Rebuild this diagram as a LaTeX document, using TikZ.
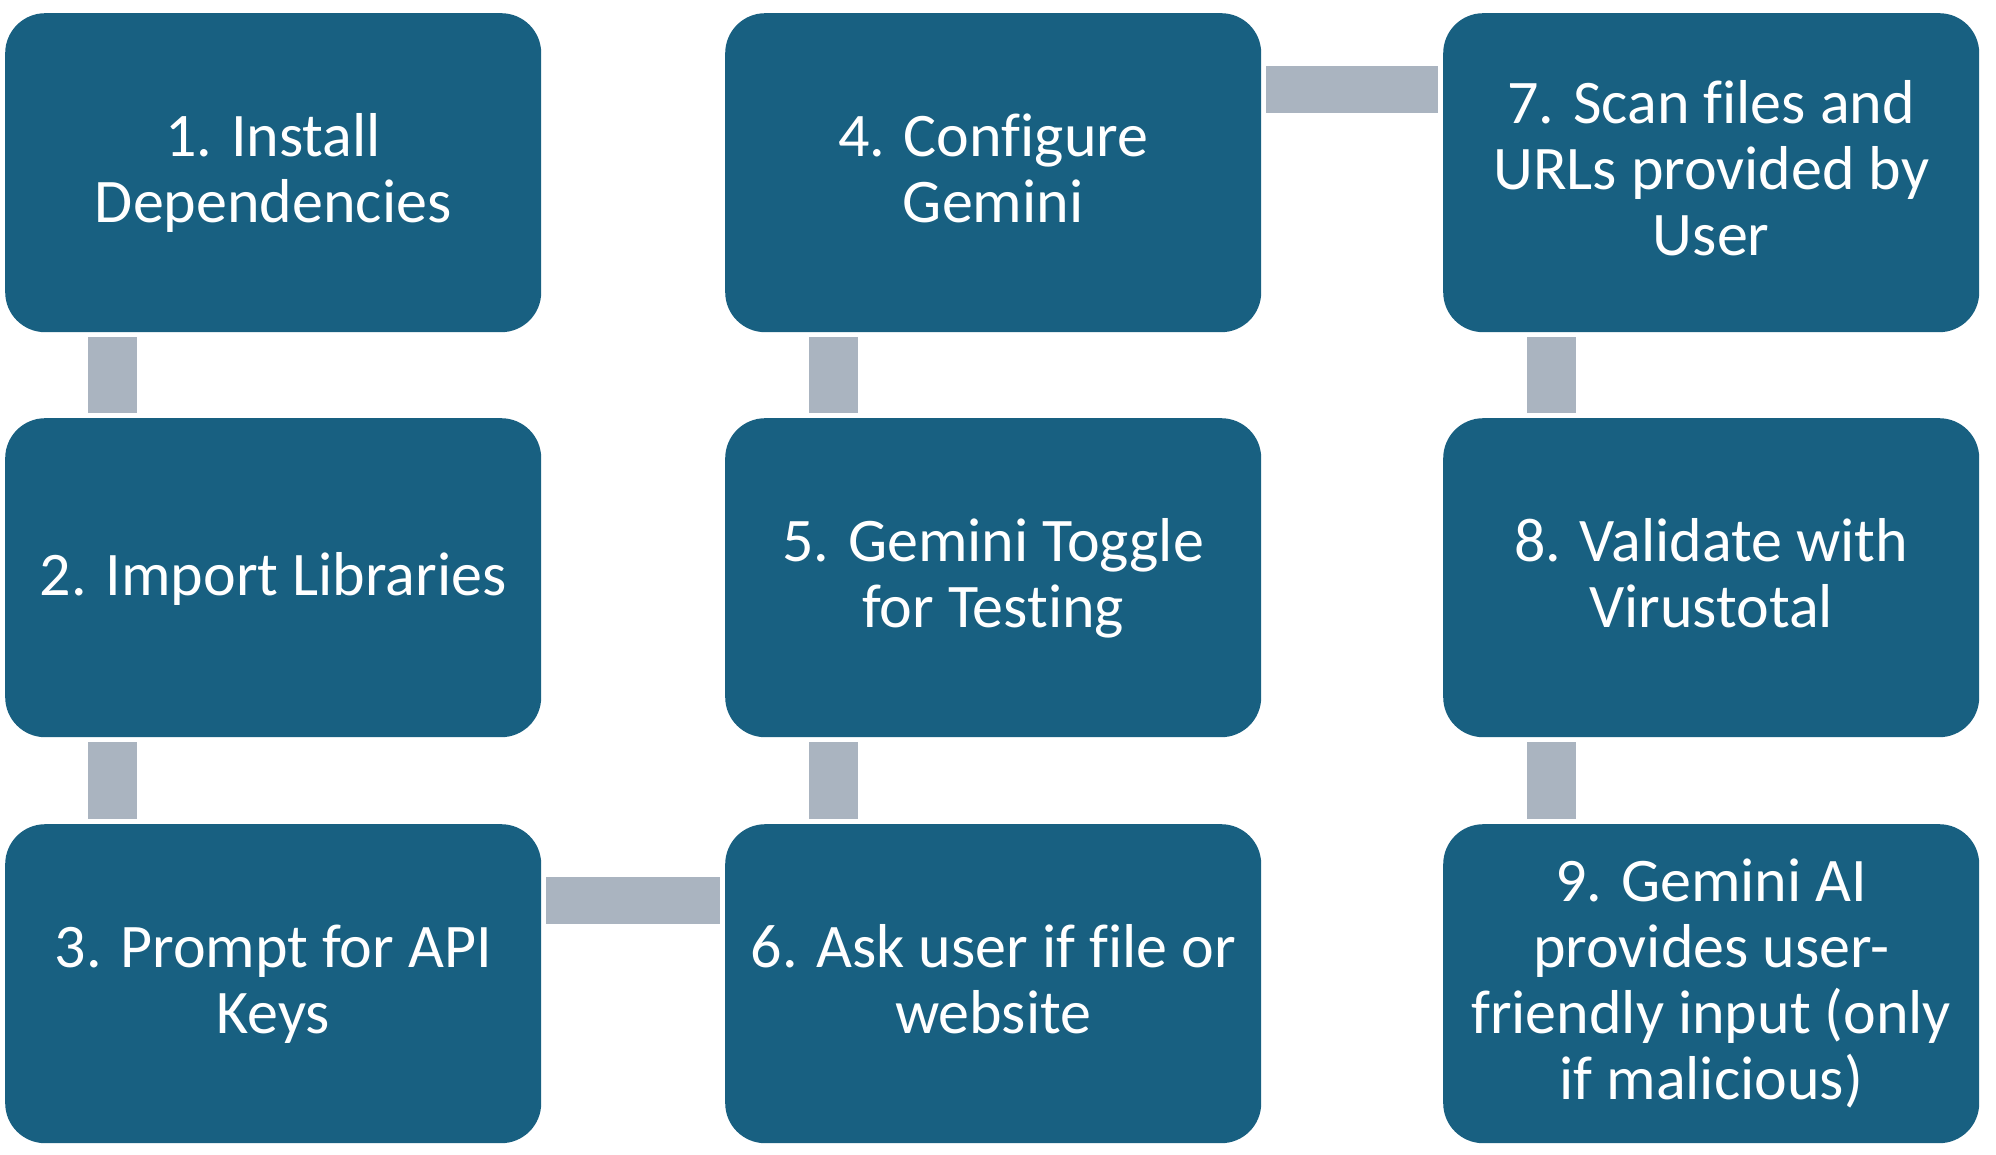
\documentclass[tikz,border=0pt]{standalone}
\usepackage{fontspec}
\setmainfont{Carlito}[Ligatures=NoCommon]
\definecolor{boxblue}{RGB}{24,96,129}
\definecolor{conngray}{RGB}{170,180,192}
\tikzset{
  stepbox/.style={rectangle, rounded corners=40pt, fill=boxblue, draw=none,
    minimum width=536pt, minimum height=319pt, inner sep=0pt, anchor=north west},
  steptext/.style={text=white, align=center, inner sep=0pt, yshift=-5pt,
    font=\fontsize{62}{66}\selectfont,
    execute at begin node=\strut, execute at end node=\strut},
  vconn/.style={draw=conngray, line width=49pt, line cap=butt},
  hconn/.style={draw=conngray, line width=47pt, line cap=butt}
}
\begin{document}
\begin{tikzpicture}[x=1pt,y=-1pt]
\useasboundingbox (0,0) rectangle (1996,1155);
\node[stepbox, label={[steptext]center:{1. Install\\Dependencies}}] (b1) at (5,13) {};
\node[stepbox, label={[steptext]center:{2. Import Libraries}}] (b2) at (5,418) {};
\node[stepbox, label={[steptext]center:{3. Prompt for API\\Keys}}] (b3) at (5,824) {};
\node[stepbox, label={[steptext]center:{4. Configure\\Gemini}}] (b4) at (725,13) {};
\node[stepbox, label={[steptext]center:{5. Gemini Toggle\\for Testing}}] (b5) at (725,418) {};
\node[stepbox, label={[steptext]center:{6. Ask user if file or\\website}}] (b6) at (725,824) {};
\node[stepbox, label={[steptext]center:{7. Scan files and\\URLs provided by\\User}}] (b7) at (1443,13) {};
\node[stepbox, label={[steptext]center:{8. Validate with\\Virustotal}}] (b8) at (1443,418) {};
\node[stepbox, label={[steptext]center:{9. Gemini AI\\provides user-\\friendly input (only\\if malicious)}}] (b9) at (1443,824) {};
% vertical connectors
\draw[vconn] ([xshift=107.5pt,yshift=-5pt]b1.south west) -- ([xshift=107.5pt,yshift=5pt]b2.north west);
\draw[vconn] ([xshift=107.5pt,yshift=-5pt]b2.south west) -- ([xshift=107.5pt,yshift=5pt]b3.north west);
\draw[vconn] ([xshift=108pt,yshift=-5pt]b4.south west) -- ([xshift=108pt,yshift=5pt]b5.north west);
\draw[vconn] ([xshift=108pt,yshift=-5pt]b5.south west) -- ([xshift=108pt,yshift=5pt]b6.north west);
\draw[vconn] ([xshift=108pt,yshift=-5pt]b7.south west) -- ([xshift=108pt,yshift=5pt]b8.north west);
\draw[vconn] ([xshift=108pt,yshift=-5pt]b8.south west) -- ([xshift=108pt,yshift=5pt]b9.north west);
% horizontal connectors
\draw[hconn] ([xshift=5pt,yshift=-76.5pt]b3.north east) -- ([xshift=-5pt,yshift=-76.5pt]b6.north west);
\draw[hconn] ([xshift=5pt,yshift=-76.5pt]b4.north east) -- ([xshift=-5pt,yshift=-76.5pt]b7.north west);
\end{tikzpicture}
\end{document}
